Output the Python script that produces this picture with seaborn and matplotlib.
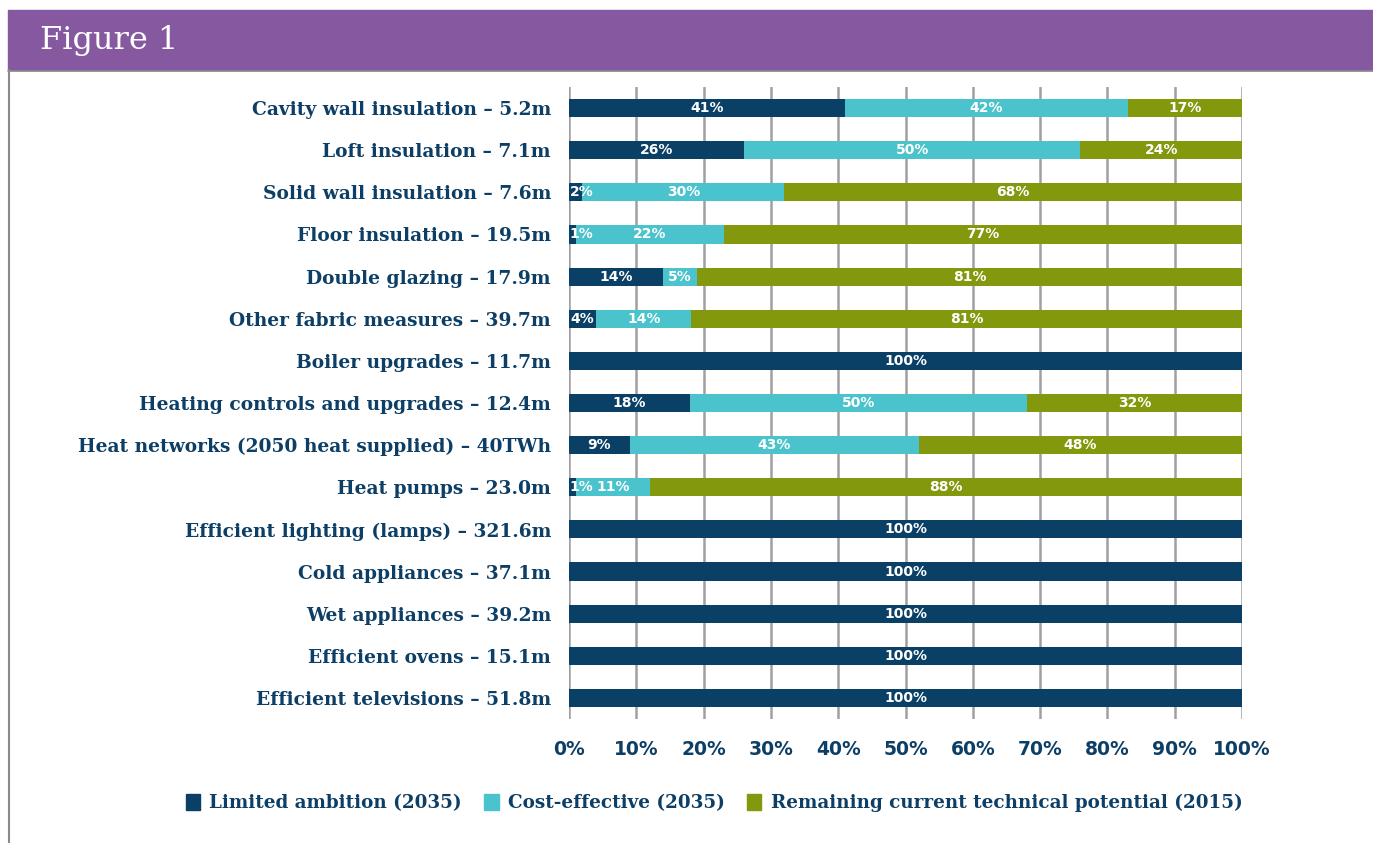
import numpy as np
import pandas as pd
import matplotlib
matplotlib.use("Agg")
import matplotlib.pyplot as plt
import matplotlib.patches as mpatches
import seaborn as sns

# data (per cent of current technical potential)
categories = [
    "Cavity wall insulation \u2013 5.2m",
    "Loft insulation \u2013 7.1m",
    "Solid wall insulation \u2013 7.6m",
    "Floor insulation \u2013 19.5m",
    "Double glazing \u2013 17.9m",
    "Other fabric measures \u2013 39.7m",
    "Boiler upgrades \u2013 11.7m",
    "Heating controls and upgrades \u2013 12.4m",
    "Heat networks (2050 heat supplied) \u2013 40TWh",
    "Heat pumps \u2013 23.0m",
    "Efficient lighting (lamps) \u2013 321.6m",
    "Cold appliances \u2013 37.1m",
    "Wet appliances \u2013 39.2m",
    "Efficient ovens \u2013 15.1m",
    "Efficient televisions \u2013 51.8m",
]
limited = [41, 26, 2, 1, 14, 4, 100, 18, 9, 1, 100, 100, 100, 100, 100]
cost_effective = [42, 50, 30, 22, 5, 14, 0, 50, 43, 11, 0, 0, 0, 0, 0]
remaining = [17, 24, 68, 77, 81, 81, 0, 32, 48, 88, 0, 0, 0, 0, 0]
series_names = ["Limited ambition (2035)", "Cost-effective (2035)",
                "Remaining current technical potential (2015)"]
x_ticks = [0, 10, 20, 30, 40, 50, 60, 70, 80, 90, 100]

colors = ["#0b4066", "#4bc3cc", "#83980d"]
text_blue = "#0d3f66"
purple = "#8558a0"

df = pd.DataFrame({"cat": categories, "a": limited, "b": cost_effective, "c": remaining})
# 100% stacked, like the original spreadsheet chart
total = df[["a", "b", "c"]].sum(axis=1)
for col in ["a", "b", "c"]:
    df[col + "_pct"] = df[col] / total * 100
df["cum_a"] = df["a_pct"]
df["cum_b"] = df["a_pct"] + df["b_pct"]
df["cum_c"] = df["cum_b"] + df["c_pct"]

sns.set_style("white")
fig = plt.figure(figsize=(13.73, 8.43), dpi=100)

# header band and frame
fig.patches.append(mpatches.Rectangle((8 / 1373, 1 - 70 / 843), 1 - 8 / 1373, 60 / 843,
                                      transform=fig.transFigure, color=purple, zorder=0))
fig.lines.append(plt.Line2D([8.5 / 1373, 8.5 / 1373], [0, 1 - 70 / 843], transform=fig.transFigure,
                            color="#8a8a8a", lw=1.5))
fig.lines.append(plt.Line2D([8 / 1373, 1], [1 - 70.5 / 843, 1 - 70.5 / 843], transform=fig.transFigure,
                            color="#8a8a8a", lw=1.2))
fig.text(40 / 1373, 1 - 40 / 843, "Figure 1", color="white", fontsize=23, fontweight="medium",
         family="DejaVu Serif", va="center", ha="left")

ax = fig.add_axes([569 / 1373, 1 - 719 / 843, 673 / 1373, 632 / 843])

# draw cumulative bars from the outside in so they stack
for col, color in zip(["cum_c", "cum_b", "cum_a"], colors[::-1]):
    sns.barplot(data=df, x=col, y="cat", color=color, width=0.43, ax=ax,
                saturation=1, zorder=2, edgecolor="none")

# segment labels (tiny first segments are pushed inside the plot area)
starts = {"a": np.zeros(len(df)), "b": df["cum_a"].values, "c": df["cum_b"].values}
for key in ["a", "b", "c"]:
    for i, (v, p, s) in enumerate(zip(df[key], df[key + "_pct"], starts[key])):
        if v <= 0:
            continue
        if key == "a" and p < 3:
            ax.text(0.1, i, f"{v}%", ha="left", va="center", color="white",
                    fontsize=10, fontweight="bold", zorder=3)
        else:
            ax.text(s + p / 2, i, f"{v}%", ha="center", va="center", color="white",
                    fontsize=10, fontweight="bold", zorder=3)

ax.set_xlim(0, 100)
ax.set_ylim(len(df) - 0.5, -0.5)
ax.set_xticks(x_ticks)
ax.set_xticklabels([f"{t}%" for t in x_ticks])
ax.xaxis.grid(True, color="#a0a0a4", lw=1.8, zorder=0)
ax.set_axisbelow(True)
for s in ax.spines.values():
    s.set_visible(False)
ax.set_xlabel("")
ax.set_ylabel("")
ax.tick_params(axis="x", length=0, pad=15, labelsize=13.5, labelcolor=text_blue)
ax.tick_params(axis="y", length=0, pad=13, labelsize=13.4, labelcolor=text_blue)
for lab in ax.get_xticklabels():
    lab.set_fontweight("bold")
for lab in ax.get_yticklabels():
    lab.set_fontweight("bold")
    lab.set_family("DejaVu Serif")

handles = [mpatches.Patch(color=c, label=n) for c, n in zip(colors, series_names)]
leg = fig.legend(handles=handles, loc="center", bbox_to_anchor=(714 / 1373, 1 - 803 / 843),
                 ncol=3, frameon=False, handlelength=0.8, handleheight=1.0, handletextpad=0.5,
                 columnspacing=1.2, prop={"family": "DejaVu Serif", "weight": "bold", "size": 13.2})
for t in leg.get_texts():
    t.set_color(text_blue)

fig.savefig("out.png", dpi=100)
